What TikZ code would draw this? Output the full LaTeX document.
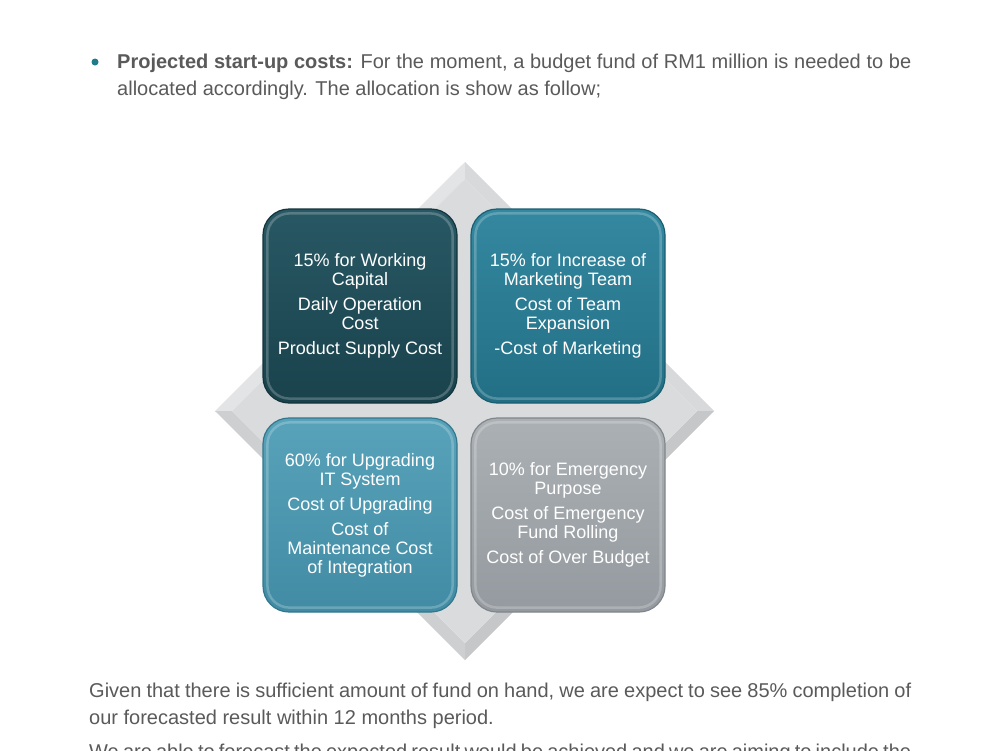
\documentclass[tikz,border=0pt]{standalone}
\usepackage{fontspec}
\setmainfont{Liberation Sans}
\definecolor{bodytext}{HTML}{5A5A5A}
\definecolor{bulletc}{HTML}{1F7A8C}
\definecolor{dmTL}{HTML}{E3E4E6}
\definecolor{dmTR}{HTML}{D7D9DB}
\definecolor{dmBR}{HTML}{C5C7C9}
\definecolor{dmBL}{HTML}{CDCFD1}
\definecolor{dmIn}{HTML}{D9DBDD}
\definecolor{tlTop}{HTML}{285864}
\definecolor{tlBot}{HTML}{19424C}
\definecolor{tlEdge}{HTML}{14343C}
\definecolor{trTop}{HTML}{3488A0}
\definecolor{trBot}{HTML}{226F85}
\definecolor{trEdge}{HTML}{1B5E70}
\definecolor{blTop}{HTML}{58A2BA}
\definecolor{blBot}{HTML}{418CA4}
\definecolor{blEdge}{HTML}{33778C}
\definecolor{brTop}{HTML}{ABB0B4}
\definecolor{brBot}{HTML}{949A9F}
\definecolor{brEdge}{HTML}{80868B}
\begin{document}
\begin{tikzpicture}[x=1pt,y=-1pt,
  quad/.style={rectangle, rounded corners=26pt, minimum width=194pt, minimum height=194pt,
    inner sep=0pt, text=white, align=center, line width=1.2pt,
    font=\fontsize{18}{19}\selectfont},
  bevel/.style={draw=white, opacity=0.22, line width=2.5pt, rounded corners=22pt},
  txt/.style={anchor=base west, inner sep=0pt, text=bodytext, font=\fontsize{20}{27}\selectfont}]
\useasboundingbox (0,0) rectangle (1000,750);
\clip (0,0) rectangle (1000,750);
\fill[white] (0,0) rectangle (1000,750);

% bullet paragraph
\node[circle, fill=bulletc, inner sep=0pt, minimum size=7pt] (bul) at (95,62) {};
\node[txt] (l1) at (117,68) {\hbox to 794pt{\textbf{Projected start-up costs:} For the moment, a budget fund of RM1 million is needed to be}};
\node[txt] (l2) at (117,95) {allocated accordingly. The allocation is show as follow;};

% diamond background
\coordinate (dT) at (465,162);
\coordinate (dR) at (714,411);
\coordinate (dB) at (465,660);
\coordinate (dL) at (215,411);
\coordinate (iT) at (465,179);
\coordinate (iR) at (697,411);
\coordinate (iB) at (465,643);
\coordinate (iL) at (232,411);
\fill[dmTL] (dL) -- (dT) -- (iT) -- (iL) -- cycle;
\fill[dmTR] (dT) -- (dR) -- (iR) -- (iT) -- cycle;
\fill[dmBR] (dR) -- (dB) -- (iB) -- (iR) -- cycle;
\fill[dmBL] (dB) -- (dL) -- (iL) -- (iB) -- cycle;
\fill[dmIn] (iT) -- (iR) -- (iB) -- (iL) -- cycle;

% quadrants
\node[quad, draw=tlEdge, top color=tlTop, bottom color=tlBot] (tl) at (360,306)
  {15\% for Working\\Capital\\[6pt]Daily Operation\\Cost\\[6pt]Product Supply Cost};
\node[quad, draw=trEdge, top color=trTop, bottom color=trBot] (tr) at (568,306)
  {15\% for Increase of\\Marketing Team\\[6pt]Cost of Team\\Expansion\\[6pt]-Cost of Marketing};
\node[quad, draw=blEdge, top color=blTop, bottom color=blBot] (bl) at (360,515)
  {60\% for Upgrading\\IT System\\[6pt]Cost of Upgrading\\[6pt]Cost of\\Maintenance Cost\\of Integration};
\node[quad, draw=brEdge, top color=brTop, bottom color=brBot] (br) at (568,515)
  {10\% for Emergency\\Purpose\\[6pt]Cost of Emergency\\Fund Rolling\\[6pt]Cost of Over Budget};
\foreach \q in {tl,tr,bl,br}{
  \draw[bevel] ([shift={(5pt,-5pt)}]\q.north west) rectangle ([shift={(-5pt,5pt)}]\q.south east);
}

% lower paragraph
\node[txt] (g1) at (89,697) {\hbox to 822pt{Given that there is sufficient amount of fund on hand, we are expect to see 85\% completion of}};
\node[txt] (g2) at (89,724) {our forecasted result within 12 months period.};
\node[txt] (g3) at (89,758) {\hbox to 822pt{We are able to forecast the expected result would be achieved and we are aiming to include the}};
\end{tikzpicture}
\end{document}
